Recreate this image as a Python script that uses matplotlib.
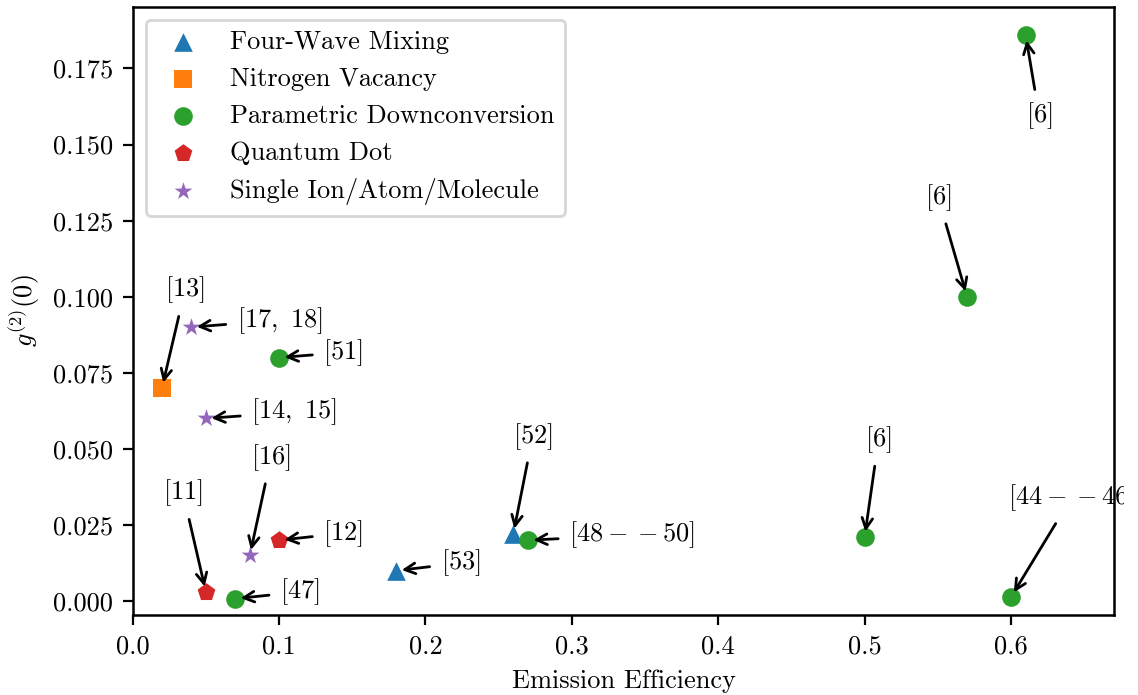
import matplotlib
matplotlib.use("Agg")
import matplotlib.pyplot as plt
from matplotlib.transforms import Bbox, TransformedBbox

plt.rcParams.update({
    "font.family": "serif",
    "font.serif": ["cmr10"],
    "mathtext.fontset": "cm",
    "axes.formatter.use_mathtext": True,
    "axes.unicode_minus": False,
    "font.size": 9.5,
})

categories = ["Four-Wave Mixing", "Nitrogen Vacancy", "Parametric Downconversion",
              "Quantum Dot", "Single Ion/Atom/Molecule"]
markers = ["^", "s", "o", "p", "*"]
colors = ["#1f77b4", "#ff7f0e", "#2ca02c", "#d62728", "#9467bd"]

fwm_x = [0.18, 0.26]
fwm_y = [0.010, 0.022]
nv_x = [0.02]
nv_y = [0.070]
pdc_x = [0.61, 0.57, 0.10, 0.27, 0.50, 0.60, 0.07]
pdc_y = [0.186, 0.100, 0.080, 0.020, 0.021, 0.0013, 0.0008]
qd_x = [0.05, 0.10]
qd_y = [0.003, 0.020]
ion_x = [0.04, 0.05, 0.08]
ion_y = [0.090, 0.060, 0.015]

series_x = [fwm_x, nv_x, pdc_x, qd_x, ion_x]
series_y = [fwm_y, nv_y, pdc_y, qd_y, ion_y]

# annotations: label, point, text centre
ann_labels = [r"$[6]$", r"$[6]$", r"$[13]$", r"$[17,\ 18]$", r"$[51]$", r"$[14,\ 15]$",
              r"$[16]$", r"$[11]$", r"$[12]$", r"$[47]$", r"$[53]$", r"$[52]$",
              r"$[48--50]$", r"$[6]$", r"$[44--46]$"]
ann_x = [0.61, 0.57, 0.02, 0.04, 0.10, 0.05, 0.08, 0.05, 0.10, 0.07, 0.18, 0.26, 0.27, 0.50, 0.60]
ann_y = [0.186, 0.100, 0.070, 0.090, 0.080, 0.060, 0.015, 0.003, 0.020, 0.0008, 0.010, 0.022,
         0.020, 0.021, 0.0013]
txt_x = [0.6193, 0.5503, 0.0357, 0.1005, 0.1439, 0.1104, 0.0945, 0.0344, 0.1439, 0.1143,
         0.2240, 0.2732, 0.3412, 0.5095, 0.6412]
txt_y = [0.1594, 0.1326, 0.1022, 0.0923, 0.0817, 0.0621, 0.0472, 0.0355, 0.0223, 0.0030,
         0.0125, 0.0541, 0.0217, 0.0530, 0.0339]

fig = plt.figure(figsize=(5.69, 3.475), dpi=200)
ax = fig.add_axes([0.1166, 0.1151, 0.9792 - 0.1166, 0.9904 - 0.1151])

for cat, m, c, xs, ys in zip(categories, markers, colors, series_x, series_y):
    ax.scatter(xs, ys, marker=m, color=c, s=45, label=cat, zorder=3, linewidths=0)

clip_box = TransformedBbox(Bbox([[0, 0], [1124 / 1138, 1]]), fig.transFigure)
for lab, x, y, tx, ty in zip(ann_labels, ann_x, ann_y, txt_x, txt_y):
    a = ax.annotate(lab, xy=(x, y), xytext=(tx, ty), ha="center", va="center",
                    arrowprops=dict(arrowstyle="->", color="black", lw=1.0),
                    annotation_clip=False)
    a.set_clip_on(True)
    a.set_clip_box(clip_box)

ax.set_xlim(0, 0.6706)
ax.set_ylim(-0.00457, 0.1953)
ax.set_xticks([0.0, 0.1, 0.2, 0.3, 0.4, 0.5, 0.6])
ax.set_yticks([0.0, 0.025, 0.05, 0.075, 0.1, 0.125, 0.15, 0.175])
ax.set_xticklabels(["0.0", "0.1", "0.2", "0.3", "0.4", "0.5", "0.6"])
ax.set_yticklabels(["0.000", "0.025", "0.050", "0.075", "0.100", "0.125", "0.150", "0.175"])
ax.set_xlabel("Emission Efficiency")
ax.set_ylabel(r"$g^{(2)}(0)$")
for sp in ax.spines.values():
    sp.set_linewidth(0.9)

ax.legend(loc="upper left", frameon=True)

fig.savefig("out.png", dpi=200)
